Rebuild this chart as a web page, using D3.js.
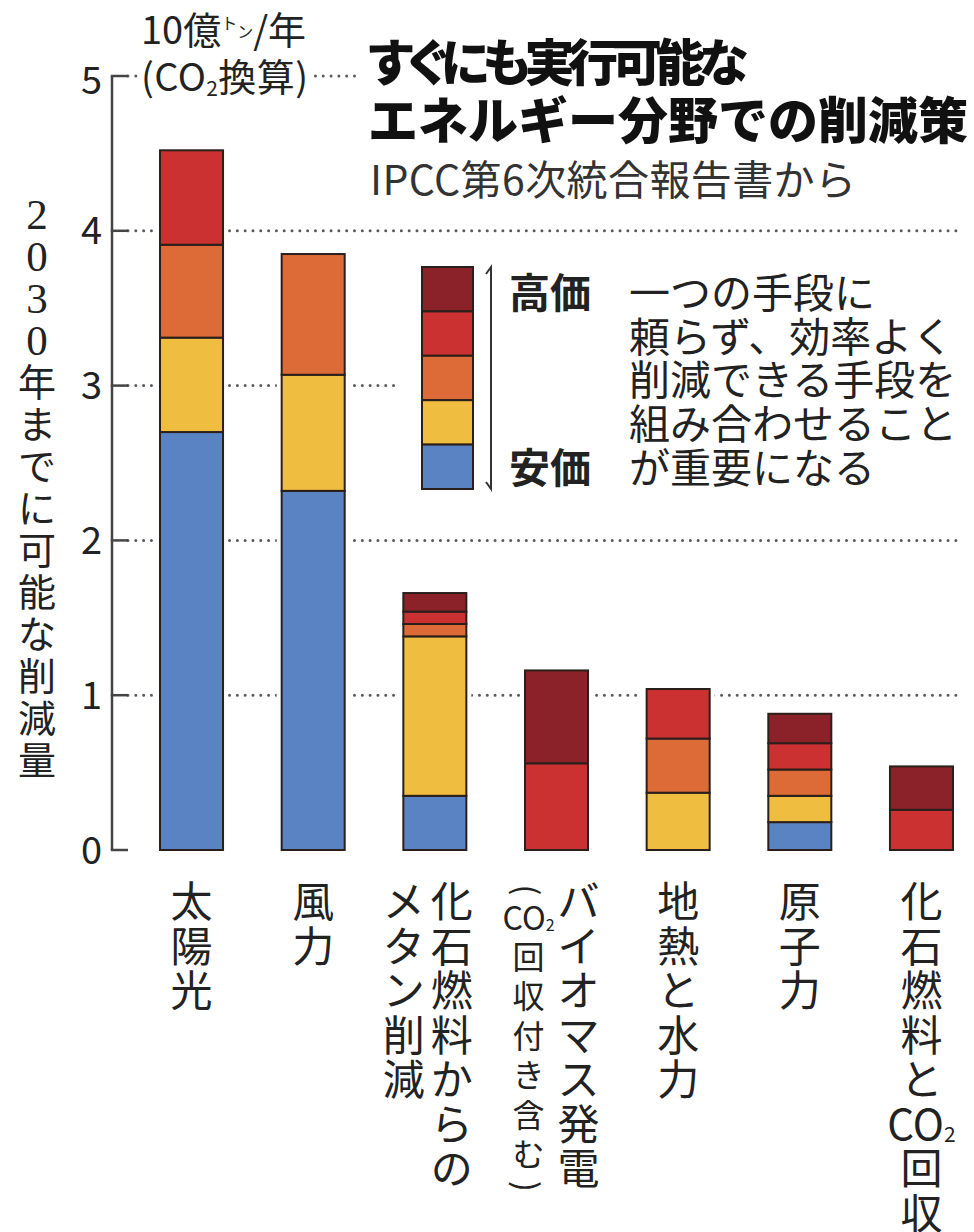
<!DOCTYPE html>
<html><head><meta charset="utf-8">
<script src="https://cdn.jsdelivr.net/npm/d3@7"></script>
<style>
html,body{margin:0;padding:0;background:#fff;}
svg{display:block;}
text{font-family:"Noto Sans CJK JP","Noto Sans",sans-serif;fill:#222;}
</style></head><body>
<svg id="chart" width="974" height="1232"></svg>
<script>
// ---------- data ----------
const categories = ["太陽光","風力","化石燃料からのメタン削減","バイオマス発電","地熱と水力","原子力","化石燃料とCO2回収"];
const costBlue    = [2.70, 2.32, 0.35, 0.00, 0.00, 0.18, 0.00]; // cheapest
const costYellow  = [0.61, 0.75, 1.03, 0.00, 0.37, 0.17, 0.00];
const costOrange  = [0.60, 0.78, 0.08, 0.00, 0.35, 0.17, 0.00];
const costRed     = [0.61, 0.00, 0.08, 0.56, 0.32, 0.17, 0.26];
const costDarkRed = [0.00, 0.00, 0.12, 0.60, 0.00, 0.19, 0.28]; // most expensive
const yTicks = [0, 1, 2, 3, 4, 5];
const xLabelColumns = [
  [["太","陽","光"]],
  [["風","力"]],
  [["化","石","燃","料","か","ら","の"],["メ","タ","ン","削","減"]],
  [["バ","イ","オ","マ","ス","発","電"],["(","CO₂","回","収","付","き","含","む",")"]],
  [["地","熱","と","水","力"]],
  [["原","子","力"]],
  [["化","石","燃","料","と","CO₂","回","収"]]
];
const yTitleChars = ["2","0","3","0","年","ま","で","に","可","能","な","削","減","量"];
const titleLines = ["すぐにも実行可能な","エネルギー分野での削減策"];
const subtitle = "IPCC第6次統合報告書から";
const noteLines = ["一つの手段に","頼らず、効率よく","削減できる手段を","組み合わせること","が重要になる"];
const legendHigh = "高価", legendLow = "安価";

// ---------- styles ----------
const keys = ["blue","yellow","orange","red","darkred"];
const colors = {blue:"#5a83c3", yellow:"#efbe40", orange:"#dc6b37", red:"#ca3130", darkred:"#8c2229"};
const outline = "#2a1f1b";

const svg = d3.select("#chart");
const rows = categories.map((c,i)=>({cat:c, blue:costBlue[i], yellow:costYellow[i], orange:costOrange[i], red:costRed[i], darkred:costDarkRed[i]}));
const stacked = d3.stack().keys(keys)(rows);

const x = d3.scaleBand().domain(categories).range([130.7, 982.3]).paddingInner(0.482).paddingOuter(0.241);
const y = d3.scaleLinear().domain([0,5]).range([850, 76]);
const axisX = 112;

// gridlines
const gridEnd = {1:957, 2:957, 3:400, 4:957, 5:362};
svg.append("g").selectAll("line").data(yTicks.filter(d=>d>0)).join("line")
  .attr("x1", axisX+16).attr("x2", d=>gridEnd[d])
  .attr("y1", d=>y(d)).attr("y2", d=>y(d))
  .attr("stroke","#5a5a5a").attr("stroke-width",3)
  .attr("stroke-linecap","round").attr("stroke-dasharray","0.01 7.8");

// axis
svg.append("line").attr("x1",axisX).attr("x2",axisX).attr("y1",y(5)).attr("y2",y(0))
  .attr("stroke","#444").attr("stroke-width",2.5);
svg.append("g").selectAll("line").data(yTicks).join("line")
  .attr("x1",axisX-1.2).attr("x2",axisX+16).attr("y1",d=>y(d)).attr("y2",d=>y(d))
  .attr("stroke","#444").attr("stroke-width",2.5);
svg.append("g").selectAll("text").data(yTicks).join("text")
  .attr("x",102).attr("y",d=>y(d)+(d===5?4:0)).attr("dy","0.36em")
  .attr("text-anchor","end").attr("font-size",38).text(d=>d);

// white halos around bars (gap in gridlines)
const totals = rows.map(r=>keys.reduce((s,k)=>s+r[k],0));
svg.append("g").selectAll("rect").data(categories).join("rect")
  .attr("x",d=>x(d)-5).attr("width",x.bandwidth()+10)
  .attr("y",(d,i)=>y(totals[i])-5).attr("height",(d,i)=>y(0)-y(totals[i])+5)
  .attr("fill","#fff");

// bars
const gBars = svg.append("g");
stacked.forEach(layer=>{
  gBars.append("g").selectAll("rect").data(layer.filter(d=>d[1]-d[0]>0)).join("rect")
    .attr("x",d=>x(d.data.cat)).attr("width",x.bandwidth())
    .attr("y",d=>y(d[1])).attr("height",d=>y(d[0])-y(d[1]))
    .attr("fill",colors[layer.key]).attr("stroke",outline).attr("stroke-width",2);
});

// unit label
const unit = svg.append("g");
unit.append("rect").attr("x",140).attr("y",55).attr("width",172).attr("height",45).attr("fill","#fff");
const u1 = unit.append("text").attr("x",141).attr("y",44).attr("font-size",38);
u1.append("tspan").text("10億");
u1.append("tspan").attr("font-size",16).attr("dy",-15).text("ト");
u1.append("tspan").attr("font-size",16).attr("dy",9).text("ン");
u1.append("tspan").attr("dy",6).text("/年");
const u2 = unit.append("text").attr("x",141).attr("y",91).attr("font-size",38)
  .attr("textLength",167).attr("lengthAdjust","spacing");
u2.append("tspan").text("(CO");
u2.append("tspan").attr("font-size",21).attr("dy",5).text("2");
u2.append("tspan").attr("dy",-5).text("換算)");

// title
svg.append("text").attr("x",368).attr("y",81).attr("font-size",50).attr("font-weight",900)
  .style("fill","#111").style("font-feature-settings","'palt'")
  .attr("textLength",380).attr("lengthAdjust","spacing").text(titleLines[0]);
svg.append("text").attr("x",368).attr("y",139).attr("font-size",50).attr("font-weight",900)
  .style("fill","#111").text(titleLines[1]);
svg.append("text").attr("x",370).attr("y",195).attr("font-size",41).style("fill","#333")
  .attr("textLength",486).attr("lengthAdjust","spacing").text(subtitle);

// y title (vertical)
svg.append("g").selectAll("text").data(yTitleChars).join("text")
  .attr("x",37).attr("y",(d,i)=>214+i*42).attr("dy","0.36em").attr("text-anchor","middle")
  .attr("font-size",d=>/[0-9]/.test(d)?43:38)
  .style("font-family",d=>/[0-9]/.test(d)?"'Liberation Serif',serif":null)
  .text(d=>d);

// legend
const legendKeys = keys.slice().reverse();
const lg = svg.append("g");
const lgY = d3.scaleBand().domain(legendKeys).range([267,489]);
lg.selectAll("rect").data(legendKeys).join("rect")
  .attr("x",422).attr("width",51).attr("y",d=>lgY(d)).attr("height",lgY.bandwidth())
  .attr("fill",d=>colors[d]).attr("stroke",outline).attr("stroke-width",2);
lg.append("path").attr("d","M486,274 L491,267 L491,489 L486,482")
  .attr("fill","none").attr("stroke","#333").attr("stroke-width",2);
lg.append("text").attr("x",509).attr("y",293).attr("dy","0.36em").attr("font-size",41).attr("font-weight",700).text(legendHigh);
lg.append("text").attr("x",509).attr("y",468).attr("dy","0.36em").attr("font-size",41).attr("font-weight",700).text(legendLow);
lg.selectAll("text.note").data(noteLines).join("text").attr("class","note")
  .attr("x",629).attr("y",(d,i)=>293+i*43.8).attr("dy","0.36em").attr("font-size",41).text(d=>d);

// x labels (vertical)
const colOffsets = [[0],[0],[17,-31],[22,-28],[0],[0],[0]];
const gx = svg.append("g");
xLabelColumns.forEach((cols,ci)=>{
  const cx = x(categories[ci]) + x.bandwidth()/2;
  cols.forEach((chars,k)=>{
    const small = (ci===3 && k===1);
    const fs = small ? 32 : 42;
    let yc = small ? 890 : 902;
    chars.forEach((ch,j)=>{
      if(j>0){
        if(small){
          const prev = chars[j-1];
          yc += (prev==="(") ? 28 : (prev==="CO₂" ? 39 : (ch===")" ? 32 : 39.5));
        } else yc += 44.5;
      }
      const px = cx+colOffsets[ci][k];
      const t = gx.append("text").attr("x",px).attr("y",yc)
        .attr("text-anchor","middle").attr("font-size",fs);
      if(ch==="(" || ch===")"){
        t.attr("dominant-baseline","central").attr("transform",`rotate(90,${px},${yc})`).text(ch);
      } else if(ch==="CO₂"){
        t.attr("dy","0.36em");
        t.append("tspan").text("CO");
        t.append("tspan").attr("font-size",fs*0.5).attr("dy",fs*0.05).text("2");
      } else t.attr("dy","0.36em").text(ch);
    });
  });
});
</script>
</body></html>
